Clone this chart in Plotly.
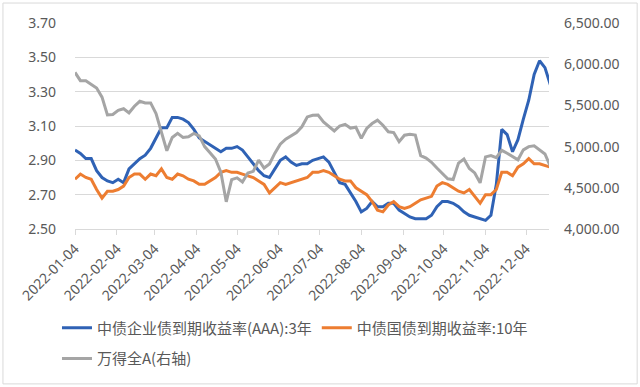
import pandas as pd
import plotly.graph_objects as go

# Dates sampled every 4 calendar days from 2022-01-04
dates = pd.date_range("2022-01-04", periods=89, freq="4D")

corp_aaa_3y = [
    2.96, 2.94, 2.91, 2.91, 2.84, 2.80, 2.78, 2.77, 2.79, 2.77,
    2.85, 2.88, 2.91, 2.93, 2.97, 3.03, 3.09, 3.09, 3.15, 3.15,
    3.14, 3.12, 3.08, 3.03, 3.01, 2.99, 2.97, 2.95, 2.97, 2.97,
    2.98, 2.96, 2.92, 2.88, 2.84, 2.81, 2.80, 2.85, 2.90, 2.92,
    2.89, 2.87, 2.88, 2.88, 2.90, 2.91, 2.92, 2.89, 2.83, 2.77,
    2.76, 2.71, 2.66, 2.60, 2.62, 2.66, 2.63, 2.63, 2.65, 2.65,
    2.61, 2.59, 2.57, 2.56, 2.56, 2.56, 2.58, 2.63, 2.66, 2.66,
    2.65, 2.63, 2.60, 2.58, 2.57, 2.56, 2.55, 2.58, 2.76, 3.08,
    3.05, 2.95, 3.02, 3.14, 3.25, 3.40, 3.48, 3.44, 3.34,
]

gov_10y = [
    2.79, 2.82, 2.80, 2.79, 2.73, 2.68, 2.72, 2.72, 2.73, 2.75,
    2.80, 2.82, 2.82, 2.79, 2.82, 2.81, 2.85, 2.80, 2.79, 2.82,
    2.81, 2.79, 2.78, 2.76, 2.76, 2.78, 2.80, 2.83, 2.84, 2.83,
    2.83, 2.82, 2.81, 2.80, 2.78, 2.76, 2.71, 2.74, 2.77, 2.76,
    2.77, 2.78, 2.79, 2.80, 2.83, 2.83, 2.84, 2.83, 2.81, 2.79,
    2.78, 2.78, 2.74, 2.72, 2.70, 2.66, 2.61, 2.60, 2.64, 2.66,
    2.63, 2.62, 2.63, 2.65, 2.67, 2.68, 2.69, 2.75, 2.77, 2.76,
    2.74, 2.72, 2.71, 2.73, 2.69, 2.65, 2.70, 2.70, 2.73, 2.83,
    2.83, 2.81, 2.86, 2.88, 2.91, 2.88, 2.88, 2.87, 2.86,
]

wind_all_a = [
    5900, 5800, 5800, 5760, 5710, 5600, 5384, 5390, 5440, 5460,
    5410, 5490, 5550, 5530, 5530, 5400, 5180, 4950, 5110, 5160,
    5110, 5120, 5160, 5130, 5000, 4920, 4850, 4690, 4330, 4600,
    4620, 4570, 4680, 4700, 4837, 4740, 4790, 4920, 5030, 5090,
    5130, 5170, 5240, 5360, 5380, 5383, 5300, 5250, 5190, 5250,
    5270, 5225, 5235, 5100, 5220, 5280, 5320, 5260, 5180, 5170,
    5060, 5138, 5150, 5140, 4890, 4860, 4810, 4740, 4680, 4610,
    4600, 4800, 4850, 4735, 4680, 4560, 4875, 4890, 4865, 4955,
    4920, 4880, 4840, 4960, 5000, 5010, 4960, 4910, 4760,
]

tick_vals = ["2022-%02d-04" % m for m in range(1, 13)]
tick_text = tick_vals

series_names = ["中债企业债到期收益率(AAA):3年", "中债国债到期收益率:10年", "万得全A(右轴)"]
colors = ["#2F62B5", "#ED7D31", "#A5A5A5"]

FONT = "Noto Sans, Noto Sans CJK SC, sans-serif"
CJK = "Noto Sans CJK SC, Noto Sans, sans-serif"
TXT = "#595959"
GRID = "#D9D9D9"

fig = go.Figure()
fig.add_trace(go.Scatter(x=dates, y=corp_aaa_3y, name=series_names[0], mode="lines",
                         line=dict(color=colors[0], width=3), legend="legend"))
fig.add_trace(go.Scatter(x=dates, y=gov_10y, name=series_names[1], mode="lines",
                         line=dict(color=colors[1], width=3), legend="legend"))
fig.add_trace(go.Scatter(x=dates, y=wind_all_a, name=series_names[2], mode="lines",
                         line=dict(color=colors[2], width=3), yaxis="y2", legend="legend2"))

fig.update_layout(
    width=640, height=387,
    margin=dict(l=75, r=91, t=23, b=158, autoexpand=False),
    paper_bgcolor="white", plot_bgcolor="white",
    font=dict(family=FONT, color=TXT),
    xaxis=dict(type="date", range=["2022-01-04", "2022-12-21"],
               tickvals=tick_vals, ticktext=tick_text, tickangle=-45,
               tickfont=dict(size=14, color=TXT, family=FONT),
               showgrid=False, showline=True, linecolor=GRID, linewidth=1,
               ticks="outside", ticklen=5, tickcolor=GRID, zeroline=False),
    yaxis=dict(range=[2.5, 3.7], dtick=0.2, tick0=2.5, tickformat=".2f",
               showgrid=True, gridcolor=GRID, gridwidth=1, zeroline=False,
               tickfont=dict(size=14, color=TXT, family=FONT), ticks="", ticklabelstandoff=18),
    yaxis2=dict(range=[4000, 6500], dtick=500, tick0=4000, tickformat=",.2f",
                overlaying="y", side="right", showgrid=False, zeroline=False,
                tickfont=dict(size=14, color=TXT, family=FONT), ticks="", ticklabelstandoff=14),
    legend=dict(orientation="h", x=-0.038, xanchor="left", y=-0.40, yanchor="top",
                font=dict(size=15, color=TXT, family=CJK), bgcolor="rgba(0,0,0,0)"),
    legend2=dict(orientation="h", x=-0.038, xanchor="left", y=-0.55, yanchor="top",
                 font=dict(size=15, color=TXT, family=CJK), bgcolor="rgba(0,0,0,0)"),
    shapes=[dict(type="rect", xref="paper", yref="paper",
                 x0=-0.152, x1=1.186, y0=-0.752, y1=1.097,
                 line=dict(color=GRID, width=1), fillcolor="rgba(0,0,0,0)", layer="below")],
    showlegend=True,
)

fig.write_html("out.html", config={"displayModeBar": False},
               post_script="document.body.style.margin='0';document.body.style.overflow='hidden';")
